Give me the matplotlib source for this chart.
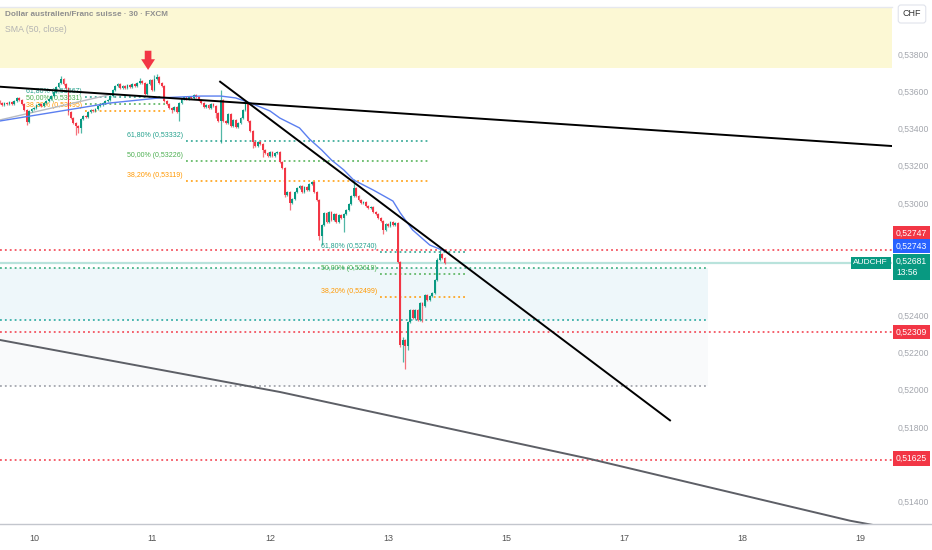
import matplotlib
matplotlib.use('Agg')
import matplotlib.pyplot as plt
from matplotlib.transforms import blended_transform_factory
from matplotlib.patches import Rectangle
from matplotlib.lines import Line2D
import numpy as np

plt.rcParams['font.family'] = ['Liberation Sans', 'DejaVu Sans']

# ---------------- data ----------------
first_open = 0.53547
closes = [
    0.53537, 0.53526, 0.53537, 0.53531, 0.53542, 0.53531, 0.53547, 0.53564, 0.53553, 0.53531,
    0.53499, 0.53435, 0.53494, 0.53505, 0.53510, 0.53526, 0.53531, 0.53521, 0.53537, 0.53547,
    0.53558, 0.53574, 0.53596, 0.53623, 0.53644, 0.53665, 0.53639, 0.53617, 0.53488, 0.53456,
    0.53429, 0.53413, 0.53403, 0.53451, 0.53467, 0.53462, 0.53488, 0.53499, 0.53494, 0.53505,
    0.53521, 0.53526, 0.53537, 0.53547, 0.53553, 0.53574, 0.53606, 0.53628, 0.53639, 0.53617,
    0.53628, 0.53617, 0.53633, 0.53623, 0.53639, 0.53628, 0.53644, 0.53655, 0.53644, 0.53585,
    0.53639, 0.53660, 0.53606, 0.53665, 0.53676, 0.53644, 0.53628, 0.53547, 0.53531, 0.53510,
    0.53499, 0.53515, 0.53488, 0.53537, 0.53558, 0.53569, 0.53558, 0.53569, 0.53564, 0.53580,
    0.53569, 0.53553, 0.53537, 0.53515, 0.53526, 0.53510, 0.53531, 0.53521, 0.53483, 0.53440,
    0.53553, 0.53440, 0.53429, 0.53478, 0.53413, 0.53446, 0.53408, 0.53429, 0.53456, 0.53499,
    0.53531, 0.53440, 0.53387, 0.53328, 0.53306, 0.53328, 0.53317, 0.53285, 0.53269, 0.53253,
    0.53274, 0.53253, 0.53269, 0.53274, 0.53220, 0.53188, 0.53043, 0.53060, 0.53001, 0.53022,
    0.53060, 0.53081, 0.53092, 0.53060, 0.53086, 0.53070, 0.53102, 0.53113, 0.53060, 0.53017,
    0.52823, 0.52883, 0.52947, 0.52899, 0.52952, 0.52909, 0.52942, 0.52899, 0.52936, 0.52920,
    0.52942, 0.52963, 0.52995, 0.53038, 0.53081, 0.53038, 0.53017, 0.53001, 0.53006, 0.52984,
    0.52974, 0.52979, 0.52952, 0.52942, 0.52920, 0.52904, 0.52856, 0.52888, 0.52877, 0.52899,
    0.52883, 0.52893, 0.52684, 0.52239, 0.52266, 0.52234, 0.52362, 0.52427, 0.52384, 0.52427,
    0.52373, 0.52464, 0.52448, 0.52507, 0.52481, 0.52502, 0.52518, 0.52588, 0.52695, 0.52727,
    0.52706, 0.52681]

# wick lengths in points (1e-5)
upper_wicks = [
    6, 5, 4, 6, 5, 4, 6, 5, 7, 4,
    5, 4, 6, 5, 4, 6, 5, 4, 6, 5,
    5, 6, 5, 7, 6, 16, 5, 6, 5, 4,
    6, 5, 4, 6, 5, 7, 5, 4, 6, 5,
    5, 6, 4, 5, 6, 5, 7, 5, 6, 5,
    6, 5, 4, 6, 5, 6, 5, 16, 5, 6,
    5, 7, 5, 21, 14, 5, 6, 5, 4, 6,
    5, 6, 5, 7, 5, 6, 5, 4, 6, 5,
    6, 5, 4, 6, 5, 7, 5, 6, 5, 4,
    54, 6, 5, 7, 5, 6, 5, 4, 6, 5,
    16, 5, 6, 5, 4, 6, 5, 7, 5, 6,
    5, 6, 5, 4, 6, 5, 7, 5, 6, 5,
    4, 6, 5, 7, 5, 6, 5, 8, 5, 6,
    5, 6, 7, 5, 6, 5, 7, 5, 6, 5,
    4, 6, 5, 7, 49, 6, 5, 4, 6, 5,
    5, 6, 5, 4, 6, 5, 7, 5, 6, 5,
    4, 6, 5, 6, 14, 5, 6, 5, 7, 5,
    6, 5, 7, 5, 6, 5, 4, 6, 8, 20,
    6, 5]
lower_wicks = [
    5, 6, 4, 5, 6, 5, 4, 6, 5, 5,
    6, 16, 5, 4, 6, 5, 5, 6, 4, 5,
    5, 4, 6, 5, 5, 4, 6, 5, 16, 5,
    6, 48, 25, 25, 5, 6, 5, 4, 6, 5,
    5, 4, 6, 5, 5, 6, 4, 5, 6, 5,
    5, 6, 4, 5, 6, 5, 5, 4, 6, 5,
    6, 5, 5, 4, 6, 5, 5, 6, 4, 5,
    16, 5, 6, 48, 5, 4, 6, 5, 5, 6,
    4, 5, 6, 5, 5, 6, 4, 5, 27, 6,
    118, 5, 6, 5, 6, 4, 5, 6, 5, 4,
    6, 5, 5, 33, 5, 6, 4, 38, 5, 6,
    5, 4, 6, 5, 5, 6, 12, 5, 38, 6,
    5, 4, 6, 5, 5, 6, 4, 5, 6, 5,
    21, 48, 5, 6, 4, 5, 6, 5, 5, 6,
    75, 5, 4, 6, 5, 5, 6, 4, 5, 6,
    5, 4, 6, 5, 5, 6, 22, 5, 6, 4,
    5, 6, 5, 12, 91, 125, 22, 5, 6, 5,
    6, 5, 86, 5, 6, 4, 5, 6, 5, 5,
    6, 5]

sma_bars = [0, 20, 45, 65, 82, 90, 96, 102, 110, 114, 122, 126, 131, 135, 140, 144,
            152, 160, 163, 168, 175, 181]
sma_vals = [0.53440, 0.53483, 0.53537, 0.53564, 0.53574, 0.53574, 0.53564, 0.53537,
            0.53494, 0.53456, 0.53403, 0.53344, 0.53285, 0.53231, 0.53178, 0.53124,
            0.53070, 0.53011, 0.52947, 0.52856, 0.52775, 0.52743]

day_tick_bars = [14, 62, 110, 158, 206, 254, 302, 350]
day_tick_labels = ['10', '11', '12', '13', '15', '17', '18', '19']

price_ticks = [0.538, 0.536, 0.534, 0.532, 0.530, 0.524, 0.522, 0.520, 0.518, 0.514]
price_tick_labels = ['0,53800', '0,53600', '0,53400', '0,53200', '0,53000',
                     '0,52400', '0,52200', '0,52000', '0,51800', '0,51400']

# trend lines (bar, price)
flat_line_bars = [0.17, 363.0]
flat_line_prices = [0.53624, 0.53306]
steep_line_bars = [89.7, 272.7]
steep_line_prices = [0.53651, 0.51835]
lower_line_bars = [0.17, 114.1, 240.2, 345.9, 355.3]
lower_line_prices = [0.52266, 0.51987, 0.51628, 0.51297, 0.51274]
diag_line_bars = [0.17, 46.0]
diag_line_prices = [0.53446, 0.53585]

# fib retracements
fib_ratios = ['61,80%', '50,00%', '38,20%']
fib1_prices = [0.53567, 0.53531, 0.53495]
fib1_span = [34.7, 68.1]
fib2_prices = [0.53332, 0.53226, 0.53119]
fib2_span = [75.8, 174.7]
fib3_prices = [0.52740, 0.52619, 0.52499]
fib3_span = [154.8, 190.1]

# horizontal levels
red_levels = [0.52747, 0.52309, 0.51625]
zone_levels = [0.52650, 0.52373, 0.52021]
zone_end_bar = 288.2
current_price = 0.52681
sma_last = 0.52743
countdown = '13:56'
symbol = 'AUDCHF'
band_low = 0.53724
arrow_bar = 60.4
arrow_tail = 0.53817
arrow_tip = 0.53714

title_text = 'Dollar australien/Franc suisse · 30 · FXCM'
sma_text = 'SMA (50, close)'

# ---------------- style ----------------
GREEN = '#089981'
RED = '#f23645'
BLUE = '#2962ff'
FIB_COLORS = ['#22a08c', '#4caf50', '#ff9800']


def fmt(p):
    return f"{p:.5f}".replace('.', ',')


W, H = 932, 550
fig = plt.figure(figsize=(W / 100, H / 100), dpi=100)
fig.patch.set_facecolor('white')
ax = fig.add_axes([0, 26 / H, 892 / W, 517 / H])
ax.set_facecolor('white')
YMIN, YMAX = 0.512793, 0.540515
ax.set_xlim(0.17, 363.0)
ax.set_ylim(YMIN, YMAX)

# yellow band
ax.axhspan(band_low, YMAX, color='#fcf8d4', zorder=0, lw=0)

# zones
ax.add_patch(Rectangle((0.17, zone_levels[1]), zone_end_bar - 0.17,
                       zone_levels[0] - zone_levels[1], facecolor='#eef7fa',
                       edgecolor='none', zorder=0.5))
ax.add_patch(Rectangle((0.17, zone_levels[2]), zone_end_bar - 0.17,
                       zone_levels[1] - zone_levels[2], facecolor='#f9fafb',
                       edgecolor='none', zorder=0.5))
DOT = (0, (1.2, 2.0))
zone_colors = ['#2aa876', '#1aa39a', '#9598a1']
for lvl, c in zip(zone_levels, zone_colors):
    ax.hlines(lvl, 0.17, zone_end_bar, colors=c, linestyles=DOT, lw=1.1, zorder=1)

for lvl in red_levels:
    ax.axhline(lvl, color=RED, ls=DOT, lw=1.1, zorder=1)

ax.axhline(current_price, color='#b9e3dc', lw=1.6, zorder=1.2)

# fibs
for prices, span in [(fib1_prices, fib1_span), (fib2_prices, fib2_span), (fib3_prices, fib3_span)]:
    for ratio, p, c in zip(fib_ratios, prices, FIB_COLORS):
        ax.hlines(p, span[0], span[1], colors=c, linestyles=DOT, lw=1.1, zorder=1.5)
        ax.annotate(f"{ratio} ({fmt(p)})", xy=(span[0], p), xytext=(-3, 2),
                    textcoords='offset pixels', ha='right', va='bottom',
                    fontsize=5.0, color=c, zorder=1.5)

# candles
x = np.arange(len(closes))
c_arr = np.array(closes)
o_arr = np.array([first_open] + closes[:-1])
hi = np.maximum(o_arr, c_arr) + np.array(upper_wicks) * 1e-5
lo = np.minimum(o_arr, c_arr) - np.array(lower_wicks) * 1e-5
cols = [GREEN if c >= o else RED for o, c in zip(o_arr, c_arr)]
ax.vlines(x, lo, hi, colors=cols, lw=0.9, zorder=4, alpha=0.7)
ax.bar(x, np.abs(c_arr - o_arr), bottom=np.minimum(o_arr, c_arr), width=0.74,
       color=cols, lw=0, zorder=5)

# SMA
ax.plot(sma_bars, sma_vals, color='#5b7ff0', lw=1.0, zorder=6)

# trend lines
ax.plot(diag_line_bars, diag_line_prices, color='#b8bbc2', lw=1.0, zorder=3)
ax.plot(flat_line_bars, flat_line_prices, color='black', lw=1.4, zorder=7)
ax.plot(steep_line_bars, steep_line_prices, color='black', lw=1.4, zorder=7)
ax.plot(lower_line_bars, lower_line_prices, color='#5d5f66', lw=1.4, zorder=7)

# red arrow
ax.annotate('', xy=(arrow_bar, arrow_tip), xytext=(arrow_bar, arrow_tail),
            arrowprops=dict(arrowstyle='simple,head_width=1.0,head_length=0.77,tail_width=0.48',
                            color=RED, lw=0, shrinkA=0, shrinkB=0, mutation_scale=10),
            zorder=8)

# axes styling
for s in ['left', 'right', 'bottom']:
    ax.spines[s].set_visible(False)
ax.spines['top'].set_color('#e6e8ee')
ax.spines['top'].set_linewidth(1)
ax.yaxis.tick_right()
ax.set_yticks(price_ticks)
ax.set_yticklabels(price_tick_labels)
ax.tick_params(axis='y', length=0, pad=4, labelsize=6.2, colors='#a3a6ad')
ax.set_xticks(day_tick_bars)
ax.set_xticklabels(day_tick_labels)
ax.tick_params(axis='x', length=0, pad=7, labelsize=6.5, colors='#555555')

fig.add_artist(Line2D([0, 1], [26 / H, 26 / H], transform=fig.transFigure,
                      color='#c3c6cd', lw=1))

# right price labels
trans = blended_transform_factory(ax.transAxes, ax.transData)
def price_box(text, level, color, dy, fs=6.2):
    ax.annotate(text, xy=(1.0, level), xycoords=trans, xytext=(4, dy),
                textcoords='offset pixels', ha='left', va='center', fontsize=fs,
                color='white', annotation_clip=False, zorder=10,
                bbox=dict(boxstyle='square,pad=0.32', fc=color, ec='none'))

price_box(fmt(red_levels[0]), red_levels[0], RED, 17)
price_box(fmt(sma_last), sma_last, BLUE, 5)
ax.annotate(fmt(current_price) + '\n' + countdown, xy=(1.0, current_price), xycoords=trans,
            xytext=(4, -4), textcoords='offset pixels', ha='left', va='center',
            fontsize=6.2, color='white', annotation_clip=False, zorder=10,
            linespacing=1.35,
            bbox=dict(boxstyle='square,pad=0.32', fc=GREEN, ec='none'))
price_box(fmt(red_levels[1]), red_levels[1], RED, 0)
price_box(fmt(red_levels[2]), red_levels[2], RED, 1)
ax.annotate(symbol, xy=(1.0, current_price), xycoords=trans, xytext=(-4, 0),
            textcoords='offset pixels', ha='right', va='center', fontsize=6.0,
            color='white', annotation_clip=False, zorder=10,
            bbox=dict(boxstyle='square,pad=0.3', fc=GREEN, ec='none'))

# CHF box
fig.text(912 / W, 1 - 14 / H, 'CHF', ha='center', va='center', fontsize=6.5, color='#333333',
         bbox=dict(boxstyle='round,pad=0.5,rounding_size=0.3', fc='white', ec='#e0e3eb', lw=0.8))

# header texts
fig.text(5 / W, 1 - 15 / H, title_text, ha='left', va='center', fontsize=5.9,
         color='#8f8f8f', weight='bold')
fig.text(5 / W, 1 - 29 / H, sma_text, ha='left', va='center', fontsize=6.3, color='#b3b3b3')

fig.savefig('out.png', dpi=100, facecolor='white')
